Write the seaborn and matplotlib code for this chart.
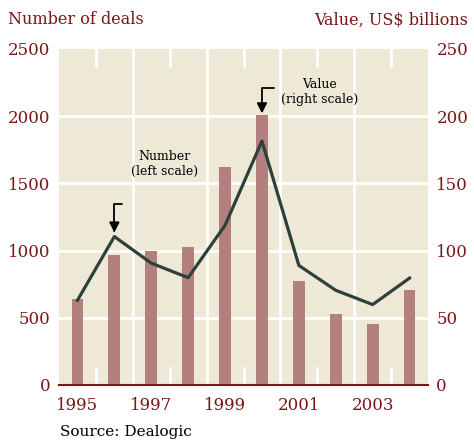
import numpy as np
import pandas as pd
import matplotlib
matplotlib.use("Agg")
import matplotlib.pyplot as plt
import seaborn as sns

# data
years = [1995, 1996, 1997, 1998, 1999, 2000, 2001, 2002, 2003, 2004]
deals = [630, 1104, 906, 798, 1188, 1815, 889, 704, 598, 795]      # line, left scale
value = [64, 97, 100, 103, 162, 201, 77, 53, 45, 71]               # bars, right scale
left_ticks = [0, 500, 1000, 1500, 2000, 2500]
right_ticks = [0, 50, 100, 150, 200, 250]
year_labels = [1995, 1997, 1999, 2001, 2003]

red = "#7a1616"
beige = "#eee9d6"
bar_col = "#b37f7f"
line_col = "#2e403b"

plt.rcParams['font.family'] = ['DejaVu Serif']

df = pd.DataFrame({"year": years, "deals": deals, "value": value})

fig = plt.figure(figsize=(4.74, 4.45), dpi=100)
ax = fig.add_axes([0.1245, 0.135, 0.7785, 0.755])
ax2 = ax.twinx()
ax.set_zorder(ax2.get_zorder() + 1)
ax.patch.set_visible(False)
ax2.patch.set_visible(True)
ax2.set_facecolor(beige)

# bars on right scale
sns.barplot(data=df, x="year", y="value", ax=ax2, color=bar_col, saturation=1,
            native_scale=True, width=0.32, zorder=3)
# line on left scale
sns.lineplot(data=df, x="year", y="deals", ax=ax, color=line_col, linewidth=2.3)

ax.set_xlim(years[0] - 0.5, years[-1] + 0.5)
ax.set_ylim(0, 2500)
ax2.set_ylim(0, 250)

# white grid
for v in right_ticks[1:-1]:
    ax2.axhline(v, color="white", lw=2, zorder=1)
bounds = np.array(years[:-1]) + 0.5
for i, b in enumerate(bounds):
    if i % 2 == 1:
        ax2.axvline(b, color="white", lw=2, zorder=1)
    else:
        ax2.axvline(b, ymin=0, ymax=0.05, color="white", lw=2, zorder=1)
        ax2.axvline(b, ymin=0.95, ymax=1, color="white", lw=2, zorder=1)

ax.set_yticks(left_ticks)
ax2.set_yticks(right_ticks)
ax.set_xticks(year_labels)
ax.set_xticklabels([str(y) for y in year_labels])
for a in (ax, ax2):
    a.set_xlabel("")
    a.set_ylabel("")
    for s in a.spines.values():
        s.set_visible(False)
    a.tick_params(length=0, labelsize=12, labelcolor=red)
ax.tick_params(axis="y", pad=6)
ax2.tick_params(axis="y", pad=6)
ax.tick_params(axis="x", pad=9)
ax.spines["bottom"].set_visible(True)
ax.spines["bottom"].set_color(red)
ax.spines["bottom"].set_linewidth(1.5)

# annotations
ax.text(1997.37, 1645, "Number\n(left scale)", ha="center", va="center",
        fontsize=9, linespacing=1.25, color="black")
ax.annotate("", xy=(1996, 1133), xytext=(1996.22, 1348),
            arrowprops=dict(arrowstyle="-|>,head_length=0.6,head_width=0.3",
                            connectionstyle="angle,angleA=0,angleB=90,rad=0",
                            color="black", lw=1.3, shrinkA=0, shrinkB=0))
ax2.text(2001.57, 218, "Value\n(right scale)", ha="center", va="center",
         fontsize=9, linespacing=1.25, color="black", zorder=5)
ax2.annotate("", xy=(2000, 202), xytext=(2000.33, 221),
             arrowprops=dict(arrowstyle="-|>,head_length=0.6,head_width=0.3",
                             connectionstyle="angle,angleA=0,angleB=90,rad=0",
                             color="black", lw=1.3, shrinkA=0, shrinkB=0), zorder=5)

fig.text(8 / 474, 1 - 20 / 445, "Number of deals", ha="left", va="center",
         fontsize=11.5, color=red)
fig.text(468 / 474, 1 - 20 / 445, "Value, US$ billions", ha="right", va="center",
         fontsize=11.5, color=red)
fig.text(60 / 474, 1 - 432 / 445, "Source: Dealogic", ha="left", va="center",
         fontsize=11, color="black")

fig.savefig("out.png", dpi=100)
